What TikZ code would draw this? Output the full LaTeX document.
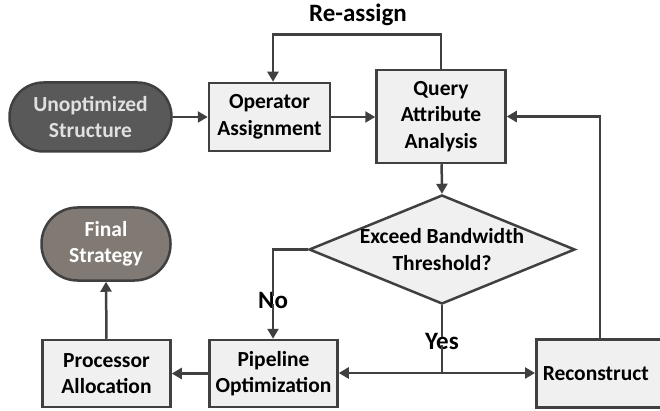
\documentclass[tikz,border=0pt]{standalone}
\usepackage{fontspec}
\setmainfont{Carlito}
\usetikzlibrary{arrows.meta,shapes.geometric}
\definecolor{edge}{HTML}{404040}
\definecolor{boxfill}{HTML}{F0F0F0}
\definecolor{startfill}{HTML}{595959}
\definecolor{endfill}{HTML}{817A74}
\tikzset{
  every node/.style={font=\bfseries\fontsize{21.5}{26.5}\selectfont, align=center, inner sep=0pt},
  procbox/.style={draw=edge, line width=2.5pt, fill=boxfill, text=black},
  termbox/.style={draw=edge, line width=2.5pt, rounded corners=34pt, text=white},
  decide/.style={draw=edge, line width=2.5pt, fill=boxfill, diamond, aspect=2.45, inner sep=0pt},
  flow/.style={draw=edge, line width=2.5pt, -{Triangle[length=10pt,width=11pt]}},
  plain/.style={draw=edge, line width=2.5pt},
  lbl/.style={font=\bfseries\fontsize{25}{30}\selectfont, text=black}
}
\begin{document}
\begin{tikzpicture}[x=1pt,y=-1pt]
\useasboundingbox (0,0) rectangle (660,411);

% terminals
\node[termbox, fill=startfill, text=white!88!black, minimum width=162pt, minimum height=69pt] (start) at (90.5,117) {Unoptimized\\Structure};
\node[termbox, fill=endfill, minimum width=129pt, minimum height=73pt, rounded corners=36pt] (final) at (106,244) {Final\\Strategy};

% process boxes
\node[procbox, minimum width=121pt, minimum height=68pt] (assign) at (269.5,117) {Operator\\Assignment};
\node[procbox, minimum width=129pt, minimum height=93pt] (query) at (441,116.5) {Query\\Attribute\\Analysis};
\node[procbox, minimum width=128pt, minimum height=67pt] (pipe) at (273.5,373.5) {Pipeline\\Optimization};
\node[procbox, minimum width=128pt, minimum height=67pt] (proc) at (106.5,373.5) {Processor\\Allocation};
\node[procbox, minimum width=125pt, minimum height=68pt, anchor=west] (recon) at (535,373.5) {\hspace*{-6pt}Reconstruct};

% decision
\node[decide, minimum width=266pt, minimum height=109pt] (dec) at (442,249.5) {};
\node at (442,249.5) {Exceed Bandwidth\\Threshold?};

% labels
\node[lbl] (reassign) at (358,15) {Re-assign};
\node[lbl] (no) at (273,300) {No};
\node[lbl] (yes) at (442,341) {Yes};
\coordinate (split) at (442,373);

% connectors
\draw[flow] (start) -- (assign);
\draw[flow] (assign) -- (assign -| query.west);
\draw[flow] (query.north) -- ++(0,-34) -| (assign.north -| 273,0);
\draw[flow] (query) -- (dec.north);
\draw[plain] (dec.west) -| ([yshift=-4pt]no.north);
\draw[flow] ([yshift=4pt]no.south) -- (pipe.north -| no);
\draw[plain] (dec.south) -- ([yshift=-4pt]yes.north);
\draw[plain] ([yshift=4pt]yes.south) -- (split);
\draw[flow] (split) -- (pipe.east |- split);
\draw[flow] (split) -- (recon.west |- split);
\draw[flow] (recon.north -| 600,0) |- (query.east);
\draw[flow] (pipe.west) -- (proc.east);
\draw[flow] (proc.north) -- (final.south);
\end{tikzpicture}
\end{document}
